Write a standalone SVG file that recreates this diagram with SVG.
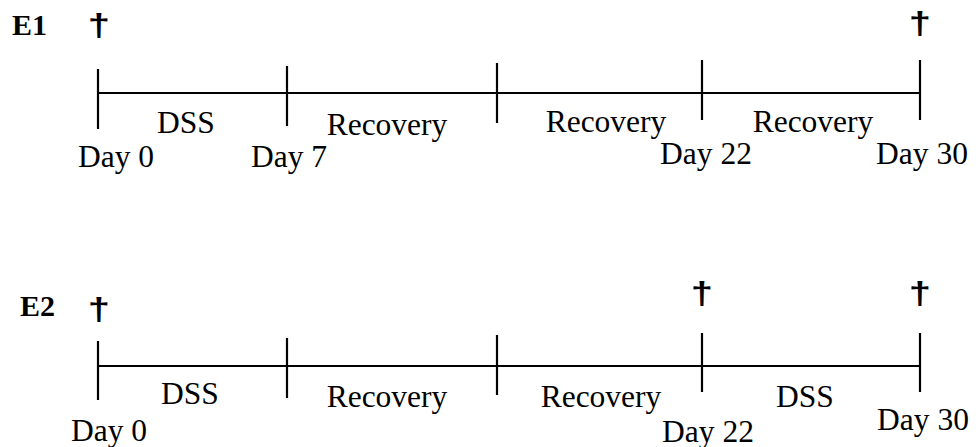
<svg xmlns="http://www.w3.org/2000/svg" width="976" height="447" viewBox="0 0 976 447">
<style>
.t{font-family:"Liberation Serif","Times New Roman",serif;font-size:31.5px;fill:#000}
.b{font-weight:bold;font-size:30px}
.m{text-anchor:middle}
.d{font-family:"Liberation Sans",Arial,sans-serif;font-size:32px;font-weight:bold;text-anchor:middle;fill:#000}
.ax{stroke:#000;stroke-width:2;fill:none}
.tk{stroke:#000;stroke-width:2.2;fill:none}
</style>
<rect width="976" height="447" fill="#fff"/>
<g id="connectors">
<line class="ax" x1="98" y1="93" x2="920" y2="93"/>
<line class="tk" x1="98" y1="69" x2="98" y2="129"/>
<line class="tk" x1="287" y1="66" x2="287" y2="126"/>
<line class="tk" x1="497" y1="63" x2="497" y2="123"/>
<line class="tk" x1="702" y1="60" x2="702" y2="120"/>
<line class="tk" x1="920" y1="60" x2="920" y2="120"/>
<line class="ax" x1="98" y1="366" x2="920" y2="366"/>
<line class="tk" x1="98" y1="341" x2="98" y2="400"/>
<line class="tk" x1="287" y1="338" x2="287" y2="398"/>
<line class="tk" x1="497" y1="335" x2="497" y2="395"/>
<line class="tk" x1="702" y1="333" x2="702" y2="392"/>
<line class="tk" x1="920" y1="333" x2="920" y2="392"/>
</g>
<g id="E1">
<text class="t b" x="12" y="35">E1</text>
<text class="d" x="0" y="0" transform="translate(99,36) scale(1.25,1)">†</text>
<text class="d" x="0" y="0" transform="translate(920,34) scale(1.25,1)">†</text>
<text class="t m" x="186" y="133">DSS</text>
<text class="t m" x="387" y="135">Recovery</text>
<text class="t m" x="606" y="132">Recovery</text>
<text class="t m" x="813" y="132">Recovery</text>
<text class="t m" x="116" y="167">Day 0</text>
<text class="t m" x="289" y="167">Day 7</text>
<text class="t m" x="706" y="164">Day 22</text>
<text class="t m" x="922" y="164">Day 30</text>
</g>
<g id="E2">
<text class="t b" x="20" y="316">E2</text>
<text class="d" x="0" y="0" transform="translate(99,320) scale(1.25,1)">†</text>
<text class="d" x="0" y="0" transform="translate(702,304) scale(1.25,1)">†</text>
<text class="d" x="0" y="0" transform="translate(920,304) scale(1.25,1)">†</text>
<text class="t m" x="190" y="404">DSS</text>
<text class="t m" x="387" y="407">Recovery</text>
<text class="t m" x="601" y="407">Recovery</text>
<text class="t m" x="805" y="407">DSS</text>
<text class="t m" x="109" y="441">Day 0</text>
<text class="t m" x="708" y="442">Day 22</text>
<text class="t m" x="923" y="430">Day 30</text>
</g>
</svg>
